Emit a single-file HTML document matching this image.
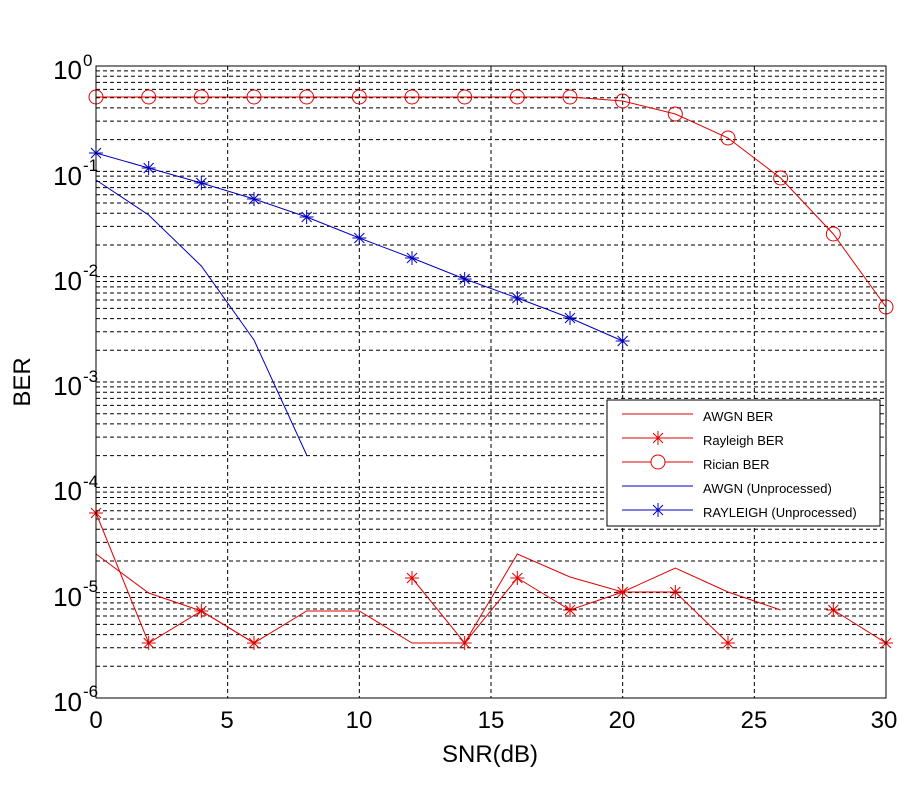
<!DOCTYPE html>
<html><head><meta charset="utf-8"><style>body{margin:0;background:#fff}svg{display:block}</style></head>
<body>
<svg id="s" width="900" height="800" xmlns="http://www.w3.org/2000/svg" font-family="Liberation Sans, sans-serif">
<rect width="900" height="800" fill="#fff"/>
<g id="grid"></g>
<g id="data"></g>
<rect x="96" y="66" width="790" height="632" fill="none" stroke="#000" stroke-width="1"/>
<g font-size="24" fill="#000" text-anchor="middle">
<text x="96" y="728">0</text><text x="227" y="728">5</text><text x="359" y="728">10</text>
<text x="491" y="728">15</text><text x="622" y="728">20</text><text x="754" y="728">25</text><text x="884" y="728">30</text>
</g>
<g font-size="26" fill="#000" text-anchor="end">
<text x="82" y="79">10</text><text x="82" y="185">10</text><text x="82" y="290">10</text><text x="82" y="395">10</text><text x="82" y="500">10</text><text x="82" y="606">10</text><text x="82" y="711">10</text>
</g>
<g font-size="17" fill="#000">
<text x="83" y="66">0</text><text x="83" y="171">-1</text><text x="83" y="276">-2</text><text x="83" y="382">-3</text><text x="83" y="487">-4</text><text x="83" y="592">-5</text><text x="83" y="697">-6</text>
</g>
<text x="490" y="762" font-size="24" text-anchor="middle">SNR(dB)</text>
<text transform="translate(30,382) rotate(-90)" font-size="24" text-anchor="middle">BER</text>
<rect x="607" y="400" width="273" height="126" fill="#fff" stroke="#000"/>
<g font-size="13" fill="#000">
<text x="703" y="421">AWGN BER</text><text x="703" y="445">Rayleigh BER</text><text x="703" y="469">Rician BER</text>
<text x="703" y="493">AWGN (Unprocessed)</text><text x="703" y="517">RAYLEIGH (Unprocessed)</text>
</g>
<g id="leg"></g>
</svg>
<script>
(function(){
const ns="http://www.w3.org/2000/svg";
function el(p,t,a){const e=document.createElementNS(ns,t);for(const k in a)e.setAttribute(k,a[k]);p.appendChild(e);return e;}
const G=document.getElementById('grid'),D=document.getElementById('data'),L=document.getElementById('leg');
const X=v=>96+v*790/30, T0=66, dec=632/6;
for(let k=0;k<6;k++){for(let m=1;m<=9;m++){if(m==1)continue;const y=T0+(k+1-Math.log10(m))*dec;
el(G,'line',{x1:96,x2:886,y1:y,y2:y,stroke:'#000','stroke-dasharray':'4,3','stroke-width':1});}
if(k>0){const y=T0+k*dec;el(G,'line',{x1:96,x2:886,y1:y,y2:y,stroke:'#000','stroke-dasharray':'4,3','stroke-width':1});}}
for(let v=5;v<30;v+=5)el(G,'line',{x1:X(v),x2:X(v),y1:66,y2:698,stroke:'#000','stroke-dasharray':'4,3'});
function poly(pts,c){el(D,'polyline',{points:pts.map(p=>X(p[0])+','+p[1]).join(' '),fill:'none',stroke:c,'stroke-width':1});}
function star(x,y,c,p){p=p||D;const r=7;el(p,'path',{d:`M${x-r},${y}H${x+r}M${x},${y-r}V${y+r}M${x-5},${y-5}L${x+5},${y+5}M${x-5},${y+5}L${x+5},${y-5}`,stroke:c,fill:'none','stroke-width':1});}
const ric=[[0,97],[2,97],[4,97],[6,97],[8,97],[10,97],[12,97],[14,97],[16,97],[18,97],[20,101],[22,114],[24,138],[26,178],[28,234],[30,307]];
poly(ric,'#e00000');ric.forEach(p=>el(D,'circle',{cx:X(p[0]),cy:p[1],r:7,fill:'none',stroke:'#e00000'}));
const ru=[[0,153],[2,168],[4,183],[6,199],[8,217],[10,238],[12,258],[14,279],[16,298],[18,318],[20,341]];
poly(ru,'#0000c0');ru.forEach(p=>star(X(p[0]),p[1],'#0000c0'));
poly([[0,180],[2,215],[4,266],[6,340],[8,455]],'#0000c0');
poly([[0,554],[2,593],[4,611],[6,643],[8,611],[10,611],[12,643],[14,643],[16,554],[18,577],[20,592],[22,568],[24,592],[26,610]],'#e00000');
const rb=[[[0,513],[2,643],[4,611],[6,643]],[[12,578],[14,643],[16,578],[18,610],[20,592],[22,592],[24,643]],[[28,610],[30,643]]];
rb.forEach(s=>{poly(s,'#e00000');s.forEach(p=>star(X(p[0]),p[1],'#e00000'));});
const ly=[414,438,462,486,510],lc=['#e00000','#e00000','#e00000','#0000c0','#0000c0'];
ly.forEach((y,i)=>{el(L,'line',{x1:622,x2:693,y1:y,y2:y,stroke:lc[i]});});
star(658,438,'#e00000',L);el(L,'circle',{cx:658,cy:462,r:7,fill:'#fff',stroke:'#e00000'});star(658,510,'#0000c0',L);
})();
</script>
</body></html>
